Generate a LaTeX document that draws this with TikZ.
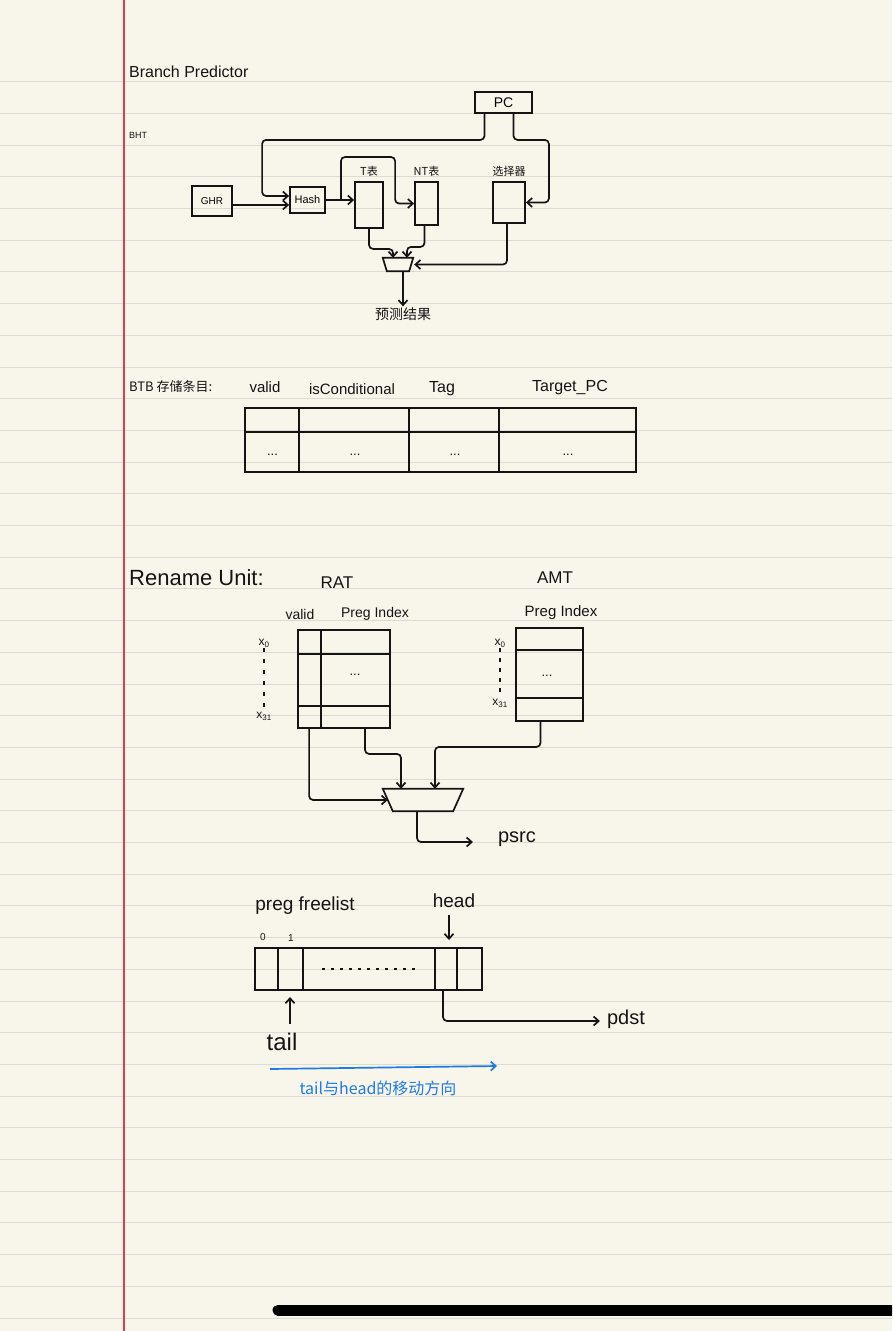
\documentclass[tikz,border=0pt]{standalone}
\usepackage{fontspec}
\setmainfont{Liberation Sans}
\newfontfamily\cjk{Noto Sans CJK SC}
\usetikzlibrary{positioning,arrows.meta,calc}
\definecolor{paper}{HTML}{F8F6EA}
\definecolor{ruleline}{HTML}{DCDBD4}
\definecolor{margin}{HTML}{E23B4B}
\definecolor{ink}{HTML}{141414}
\definecolor{pen}{HTML}{1F7AE6}
\newcommand{\fsz}[1]{\fontsize{#1}{#1}\selectfont}

\begin{document}
\begin{tikzpicture}[x=1pt, y=-1pt, >={Straight Barb[length=5pt,width=9pt]},
    wire/.style={draw=ink, line width=1.7pt, rounded corners=4pt},
    box/.style={draw=ink, line width=1.8pt, inner sep=0pt},
    grid/.style={draw=ink, line width=1.7pt},
    lbl/.style={text=ink, inner sep=1pt},
    muxframe/.style={inner sep=0pt}]

    % Paper: background, ruling, margin and scroll bar
    \useasboundingbox (0,0) rectangle (892,1331);
    \clip (0,0) rectangle (892,1331);
    \fill[paper] (0,0) rectangle (892,1331);
    \foreach \k in {0,...,39}
        \draw[ruleline, line width=1pt] (0,{81.7+31.7*\k}) -- (892,{81.7+31.7*\k});
    \draw[margin, line width=1.1pt] (124,0) -- (124,1331);
    \draw[black, line width=11pt, line cap=round] (278,1310) -- (910,1310);

    % ---------------- Branch predictor ----------------
    \node[lbl, anchor=west, font=\fsz{16}] (bptitle) at (128,72) {Branch Predictor};
    \node[lbl, anchor=west, font=\fsz{9}] (bht) at (128,135) {BHT};

    \node[box, minimum width=57pt, minimum height=21pt, font=\fsz{14}] (pc) at (503.5,102.5) {PC};
    \node[box, minimum width=40pt, minimum height=30pt, font=\fsz{10}] (ghr) at (212,201) {GHR};
    \node[box, minimum width=35pt, minimum height=26pt, font=\fsz{11}] (hash) at (307.5,200) {Hash};
    \node[box, minimum width=28pt, minimum height=46pt] (ttab) at (369,205) {};
    \node[box, minimum width=23pt, minimum height=43pt] (nttab) at (426.5,203.5) {};
    \node[box, minimum width=32pt, minimum height=41pt] (sel) at (509,202.5) {};
    \node[lbl, font=\cjk\fsz{11}, above=4pt of ttab] (tname) {T表};
    \node[lbl, font=\cjk\fsz{11}, above=4pt of nttab] (ntname) {NT表};
    \node[lbl, font=\cjk\fsz{11}, above=4pt of sel] (selname) {选择器};
    \node[muxframe, minimum width=30pt, minimum height=13pt] (mux1) at (398,264.5) {};
    \draw[grid] (mux1.north west) -- (mux1.north east) -- ([xshift=-4pt]mux1.south east) -- ([xshift=4pt]mux1.south west) -- cycle;
    \node[lbl, font=\cjk\fsz{14}] (pred) at (403,314) {预测结果};

    \draw[wire,->] ([xshift=-19pt]pc.south) -- ++(0,26) -| ([xshift=-27pt,yshift=4pt]hash.west) -- ([yshift=4pt]hash.west);
    \draw[wire,->] ([xshift=10pt]pc.south) -- ++(0,26) -| ([xshift=23pt]sel.east) -- (sel.east);
    \draw[wire,->] ([yshift=-4pt]ghr.east) -- ([yshift=-5pt]hash.west);
    \draw[wire,->] (hash.east) -- (hash.east -| ttab.west);
    \draw[wire,->] ([xshift=15pt]hash.east) -- ++(0,-43) -| ([xshift=-19pt]nttab.west) -- (nttab.west);
    \draw[wire,->] (ttab.south) -- ++(0,20) -| ([xshift=-5pt]mux1.north);
    \draw[wire,->] ([xshift=-2pt]nttab.south) -- ++(0,21) -| ([xshift=9pt]mux1.north);
    \draw[wire,->] ([xshift=-2pt]sel.south) |- ([xshift=1pt]mux1.east);
    \draw[wire,->] ([xshift=5pt]mux1.south) -- (pred.north);

    % ---------------- BTB ----------------
    \node[lbl, anchor=west, font=\cjk\fsz{13}] (btbname) at (128,387) {BTB 存储条目:};
    \node[lbl, font=\fsz{15}] (fvalid) at (265,387) {valid};
    \node[lbl, font=\fsz{15}] (fcond) at (352,389) {isConditional};
    \node[lbl, font=\fsz{16}] (ftag) at (442,389) {Tag};
    \node[lbl, font=\fsz{16}] (ftarget) at (570,388) {Target\_PC};

    \node[box, minimum width=391pt, minimum height=64pt] (btb) at (440.5,440) {};
    \draw[grid] ([yshift=8pt]btb.west) -- ([yshift=8pt]btb.east);
    \foreach \dx in {55,165,255}
        \draw[grid] ([xshift=\dx pt]btb.north west) -- ([xshift=\dx pt]btb.south west);
    \foreach \cx/\nm in {272.5/b1,355/b2,455/b3,568/b4}
        \node[lbl, font=\fsz{13}] (\nm) at (\cx,455) {...};

    % ---------------- Rename unit ----------------
    \node[lbl, anchor=west, font=\fsz{22}] (rename) at (128,578) {Rename Unit:};
    \node[lbl, font=\fsz{17}] (ratname) at (337,583) {RAT};
    \node[lbl, font=\fsz{17}] (amtname) at (555,578) {AMT};

    % RAT
    \node[box, minimum width=92pt, minimum height=98pt] (rat) at (344,679) {};
    \draw[grid] ([xshift=24pt]rat.north west) -- ([xshift=24pt]rat.south west);
    \draw[grid] ([yshift=-25pt]rat.north west) -- ([yshift=-25pt]rat.north east);
    \draw[grid] ([yshift=-77pt]rat.north west) -- ([yshift=-77pt]rat.north east);
    \node[lbl, font=\fsz{13}] (ratdots) at (355,675) {...};
    \node[lbl, font=\fsz{14}] (ratvalid) at (300,614) {valid};
    \node[lbl, font=\fsz{14}] (ratidx) at (375,614) {Preg Index};
    \node[lbl, font=\fsz{12}] (ratx0) at (264,643) {x\textsubscript{0}};
    \node[lbl, font=\fsz{12}] (ratx31) at (264,716) {x\textsubscript{31}};
    \draw[ink, line width=1.5pt, dash pattern=on 4pt off 7pt] (ratx0.south) -- (ratx31.north);

    % AMT
    \node[box, minimum width=67pt, minimum height=93pt] (amt) at (549.5,674.5) {};
    \draw[grid] ([yshift=-23pt]amt.north west) -- ([yshift=-23pt]amt.north east);
    \draw[grid] ([yshift=-71pt]amt.north west) -- ([yshift=-71pt]amt.north east);
    \node[lbl, font=\fsz{13}] (amtdots) at (547,676) {...};
    \node[lbl, font=\fsz{15}] (amtidx) at (561,613) {Preg Index};
    \node[lbl, font=\fsz{12}] (amtx0) at (500,643) {x\textsubscript{0}};
    \node[lbl, font=\fsz{12}] (amtx31) at (500,703) {x\textsubscript{31}};
    \draw[ink, line width=1.5pt, dash pattern=on 4pt off 6pt] (amtx0.south) -- (amtx31.north);

    % mux and psrc
    \node[muxframe, minimum width=80pt, minimum height=22pt] (mux2) at (423,800) {};
    \draw[grid] (mux2.north west) -- (mux2.north east) -- ([xshift=-10pt]mux2.south east) -- ([xshift=10pt]mux2.south west) -- cycle;
    \node[lbl, font=\fsz{20}] (psrc) at (517,839) {psrc};
    \draw[wire,->] ([xshift=12pt]rat.south west) |- ([xshift=5pt]mux2.west);
    \draw[wire,->] ([xshift=21pt]rat.south) -- ++(0,25) -| ([xshift=-22pt]mux2.north);
    \draw[wire,->] ([xshift=-9pt]amt.south) -- ++(0,25) -| ([xshift=12pt]mux2.north);
    \draw[wire,->] ([xshift=-6pt]mux2.south) |- ([xshift=-24pt,yshift=-3pt]psrc.west);

    % ---------------- Free list ----------------
    \node[lbl, font=\fsz{19}] (fltitle) at (305,906) {preg freelist};
    \node[lbl, font=\fsz{19}] (head) at (454,901) {head};
    \node[box, minimum width=227pt, minimum height=42pt] (fl) at (368.5,969) {};
    \foreach \dx in {24,49,181,203}
        \draw[grid] ([xshift=\dx pt]fl.north west) -- ([xshift=\dx pt]fl.south west);
    \draw[ink, line width=1.6pt, dash pattern=on 3pt off 6pt] ([xshift=68pt]fl.west) -- ([xshift=165pt]fl.west);
    \node[lbl, font=\fsz{10}] (slot0) at (263,937) {0};
    \node[lbl, font=\fsz{10}] (slot1) at (291,938) {1};
    \node[lbl, font=\fsz{24}] (tail) at (282,1042) {tail};
    \node[lbl, font=\fsz{20}] (pdst) at (626,1019) {pdst};
    \coordinate (headptr) at (449,940);
    \coordinate (tailptr) at (290,997);
    \draw[wire,->] ([xshift=-5pt,yshift=-6pt]head.south) -- (headptr);
    \draw[wire,->] ([xshift=8pt,yshift=8pt]tail.north) -- (tailptr);
    \draw[wire,->] ([xshift=74.5pt]fl.south) |- ([xshift=-6pt,yshift=-2pt]pdst.west);

    % direction note
    \coordinate (dirfrom) at (270,1069);
    \coordinate (dirto) at (497,1066);
    \draw[pen, line width=1.7pt, ->] (dirfrom) -- (dirto);
    \node[text=pen, inner sep=1pt, font=\cjk\fsz{16}] (dirnote) at (378,1088) {tail与head的移动方向};
\end{tikzpicture}
\end{document}
